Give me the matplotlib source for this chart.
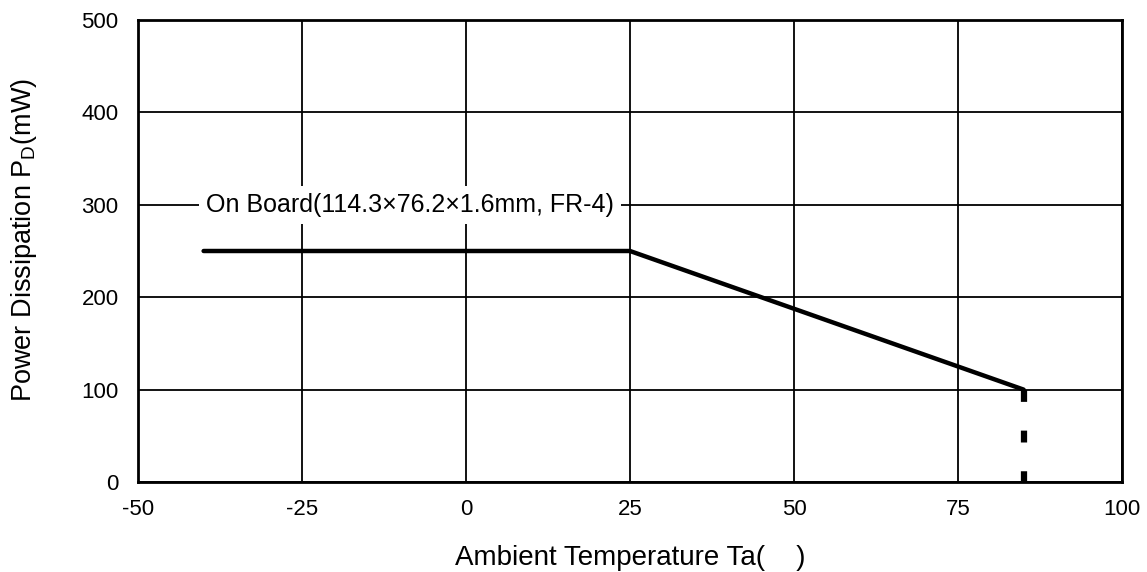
import matplotlib
matplotlib.use("Agg")
import matplotlib.pyplot as plt

temps = [-40, 25, 85]
power = [250, 250, 100]
cutoff_temp = [85, 85]
cutoff_power = [100, 0]
xticks = [-50, -25, 0, 25, 50, 75, 100]
yticks = [0, 100, 200, 300, 400, 500]
label_text = "On Board(114.3×76.2×1.6mm, FR-4)"

plt.rcParams['font.family'] = ['Liberation Sans', 'DejaVu Sans']
plt.rcParams['mathtext.fontset'] = 'custom'
plt.rcParams['mathtext.rm'] = 'Liberation Sans'

W, H = 1147, 572
fig = plt.figure(figsize=(W/100, H/100), dpi=100)
ax = fig.add_axes([138/W, 1-482/H, (1122-138)/W, (482-20)/H])

ax.set_xlim(-50, 100)
ax.set_ylim(0, 500)
ax.set_xticks(xticks)
ax.set_yticks(yticks)
ax.set_xticklabels([str(t) for t in xticks], fontsize=16)
ax.set_yticklabels([str(t) for t in yticks], fontsize=16)
ax.tick_params(axis='x', length=0, pad=12)
ax.tick_params(axis='y', length=0, pad=14)
ax.grid(True, color='black', linewidth=1.3)
ax.set_axisbelow(True)
for s in ax.spines.values():
    s.set_linewidth(2)
    s.set_color('black')

ax.plot(temps, power, color='black', linewidth=3.2, solid_capstyle='round', zorder=3)
ax.plot(cutoff_temp, cutoff_power, color='black', linewidth=4.5,
        dashes=(1.9, 4.6), dash_capstyle='butt', zorder=3)

ax.text(-39.6, 300, label_text, fontsize=18, va='center', ha='left',
        bbox=dict(facecolor='white', edgecolor='none', pad=5), zorder=4)

fig.text(630/W, 1-565/H, "Ambient Temperature Ta(    )", fontsize=20,
         ha='center', va='baseline')
fig.text(24/W, 1-240/H, r"Power Dissipation P$_\mathregular{D}$(mW)", fontsize=19.5,
         ha='center', va='center', rotation=90)

fig.savefig("out.png", dpi=100)
